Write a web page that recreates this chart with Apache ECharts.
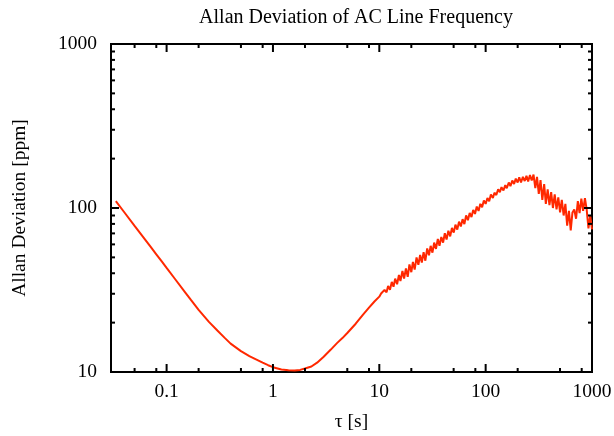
<!DOCTYPE html>
<html><head><meta charset="utf-8">
<script src="https://cdn.jsdelivr.net/npm/echarts@6/dist/echarts.min.js"></script>
<style>html,body{margin:0;padding:0;background:#fff}#c{width:614px;height:436px}</style>
</head><body><div id="c"></div>
<script>
const chartTitle = 'Allan Deviation of AC Line Frequency';
const xName = 'τ [s]';
const yName = 'Allan Deviation [ppm]';

const tau = [
  0.0333, 0.04, 0.05, 0.06, 0.07, 0.08, 0.09, 0.1, 0.12, 0.15, 0.17, 0.2, 0.25, 0.3, 0.35, 0.4,
  0.5, 0.6, 0.7, 0.8, 0.9, 1.0, 1.2, 1.4, 1.6, 1.8, 2.0, 2.3, 2.6, 3.0, 3.5, 4.0, 4.5, 5.0,
  6.0, 7.0, 8.0, 9.0,
  10, 10.4, 10.8, 11.2, 11.7, 12.1, 12.6, 13.1, 13.6, 14.1, 14.7, 15.3, 15.8, 16.5, 17.1, 17.8,
  18.5, 19.2, 20.0, 20.7, 21.5, 22.4, 23.3, 24.2, 25.1, 26.1, 27.1, 28.2, 29.3, 30.4, 31.6, 32.8,
  34.1, 35.5, 36.8, 38.3, 39.8, 41.3, 42.9, 44.6, 46.4, 48.2, 50.1, 52.0, 54.1, 56.2, 58.4, 60.7,
  63.1, 65.5, 68.1, 70.8, 73.6, 76.4, 79.4, 82.5, 85.8, 89.1, 92.6, 96.2, 100,
  104, 108, 112, 117, 121, 126, 131, 136, 141, 147, 153, 158, 165, 171, 178, 185, 192, 200,
  207, 215, 224, 233, 242, 251, 261, 271, 282, 293, 304, 316, 328, 341, 355, 368, 383, 398,
  413, 429, 446, 464, 482, 501, 520, 541, 562, 584, 607, 631, 655, 681, 708, 736, 764, 794,
  825, 858, 891, 926, 962, 1000
];
const adev = [
  110, 94.2, 77.8, 66.7, 58.5, 52.2, 47.2, 43.1, 36.9, 30.5, 27.4, 23.9, 20.2, 17.9, 16.2, 14.9,
  13.4, 12.5, 11.9, 11.4, 11.0, 10.7, 10.35, 10.25, 10.2, 10.3, 10.5, 10.8, 11.4, 12.4, 13.7, 15.0, 16.1, 17.3,
  19.7, 22.3, 24.7, 26.9,
  28.8, 30.1, 29.3, 31.7, 30.6, 33.5, 31.7, 35.4, 33.1, 37.1, 34.3, 39.1, 35.9, 41.3, 37.1, 42.8,
  38.0, 45.3, 40.6, 46.9, 42.1, 50.0, 45.0, 51.8, 46.5, 53.7, 47.7, 56.7, 51.5, 58.8, 53.4, 61.5,
  56.3, 64.8, 58.8, 66.5, 61.5, 70.1, 64.2, 72.6, 67.1, 75.7, 70.8, 79.1, 73.9, 82.6, 77.2, 85.5,
  79.8, 90.2, 84.3, 93.3, 88.0, 97.4, 92.0, 102, 96.0, 106, 101, 111, 106,
  115, 110, 121, 115, 124, 120, 130, 125, 134, 128, 138, 132, 143, 136, 147, 140, 151, 143,
  154, 143, 155, 146, 157, 145, 159, 147, 160, 132, 155, 122, 148, 112, 140, 106, 130, 104,
  125, 100, 121, 98, 116, 94, 112, 90, 106, 78, 96, 73, 94, 98, 86, 110, 93, 114,
  96, 115, 98, 75, 90, 74
];

const xMajorTicks = [0.1, 1, 10, 100, 1000];
const xMajorLabels = ['0.1', '1', '10', '100', '1000'];
const xMinorTicks = [0.05, 0.08, 0.2, 0.5, 0.8, 2, 5, 8, 20, 50, 80, 200, 500, 800];
const yMajorTicks = [10, 100, 1000];
const yMajorLabels = ['10', '100', '1000'];
const yMinorTicks = [20, 30, 40, 50, 60, 70, 80, 90, 200, 300, 400, 500, 600, 700, 800, 900];

const X_MIN = 0.03, X_MAX = 1000, Y_MIN = 10, Y_MAX = 1000;
const FONT = 'Liberation Serif';
const LINE_COLOR = '#ff2800';

function labelFor(v, majors, labels) {
  for (let i = 0; i < majors.length; i++) {
    if (Math.abs(Math.log10(v) - Math.log10(majors[i])) < 1e-6) return labels[i];
  }
  return '';
}

const xTickData = xMajorTicks.map(v => [v, Y_MIN, 1]).concat(xMinorTicks.map(v => [v, Y_MIN, 0]));
const yTickData = yMajorTicks.map(v => [X_MIN, v, 1]).concat(yMinorTicks.map(v => [X_MIN, v, 0]));

function xTickRender(params, api) {
  const v = api.value(0), len = api.value(2) ? 8 : 4;
  const b = api.coord([v, Y_MIN]), t = api.coord([v, Y_MAX]);
  const st = { stroke: '#000', lineWidth: 2 };
  return { type: 'group', children: [
    { type: 'line', shape: { x1: b[0], y1: b[1], x2: b[0], y2: b[1] - len }, style: st },
    { type: 'line', shape: { x1: t[0], y1: t[1], x2: t[0], y2: t[1] + len }, style: st }
  ]};
}
function yTickRender(params, api) {
  const v = api.value(1), len = api.value(2) ? 8 : 4;
  const l = api.coord([X_MIN, v]), r = api.coord([X_MAX, v]);
  const st = { stroke: '#000', lineWidth: 2 };
  return { type: 'group', children: [
    { type: 'line', shape: { x1: l[0], y1: l[1], x2: l[0] + len, y2: l[1] }, style: st },
    { type: 'line', shape: { x1: r[0], y1: r[1], x2: r[0] - len, y2: r[1] }, style: st }
  ]};
}

const chart = echarts.init(document.getElementById('c'), null, { renderer: 'canvas' });
chart.setOption({
  animation: false,
  backgroundColor: '#fff',
  title: {
    text: chartTitle, left: 351, top: 3, textAlign: 'center',
    textStyle: { fontFamily: FONT, fontSize: 20, fontWeight: 'normal', color: '#000' }
  },
  grid: {
    left: 111, right: 22, top: 44, bottom: 64, containLabel: false, outerBoundsMode: 'none',
    show: true, borderColor: '#000', borderWidth: 2, backgroundColor: 'transparent'
  },
  xAxis: {
    type: 'log', logBase: 10, min: X_MIN, max: X_MAX,
    axisLine: { show: false }, axisTick: { show: false }, splitLine: { show: false },
    axisLabel: {
      showMinLabel: false, margin: 10, color: '#000', fontFamily: FONT, fontSize: 19.5,
      formatter: v => labelFor(v, xMajorTicks, xMajorLabels)
    },
    name: xName, nameLocation: 'middle', nameGap: 40,
    nameTextStyle: { fontFamily: FONT, fontSize: 19.5, color: '#000' }
  },
  yAxis: {
    type: 'log', logBase: 10, min: Y_MIN, max: Y_MAX,
    axisLine: { show: false }, axisTick: { show: false }, splitLine: { show: false },
    axisLabel: {
      margin: 14, color: '#000', fontFamily: FONT, fontSize: 19.5,
      formatter: v => labelFor(v, yMajorTicks, yMajorLabels)
    },
    name: yName, nameLocation: 'middle', nameGap: 81,
    nameTextStyle: { fontFamily: FONT, fontSize: 19.5, color: '#000' }
  },
  series: [
    {
      type: 'line', data: tau.map((t, i) => [t, adev[i]]), showSymbol: false, symbol: 'none',
      lineStyle: { color: LINE_COLOR, width: 2 }, clip: true, z: 2
    },
    { type: 'custom', data: xTickData, encode: { x: 0, y: 1 }, renderItem: xTickRender, z: 3, silent: true },
    { type: 'custom', data: yTickData, encode: { x: 0, y: 1 }, renderItem: yTickRender, z: 3, silent: true }
  ]
});
</script>
</body></html>
